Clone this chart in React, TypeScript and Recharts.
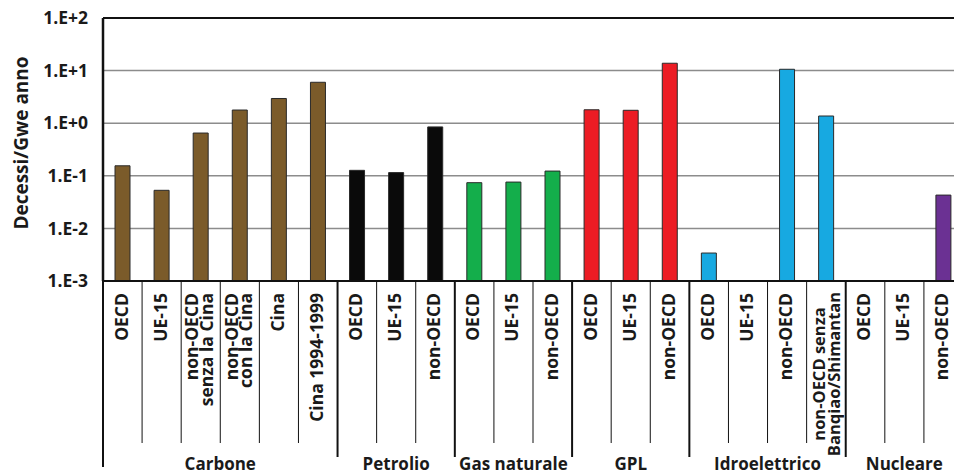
import React from 'react';
import { BarChart, Bar, XAxis, YAxis, CartesianGrid, Cell, ReferenceLine, Customized } from 'recharts';

const FONT = "'Open Sans', 'DejaVu Sans', sans-serif";

// Energy chains (groups) and their colours
const groupNames = ['Carbone', 'Petrolio', 'Gas naturale', 'GPL', 'Idroelettrico', 'Nucleare'];
const groupColors = ['#7b5b2a', '#0a0a0a', '#14ae4b', '#ec1c24', '#17a9e1', '#6b3193'];

// One category per bar; "\n" splits a label over two lines
const categoryLabels = [
  'OECD', 'UE-15', 'non-OECD\nsenza la Cina', 'non-OECD\ncon la Cina', 'Cina', 'Cina 1994-1999',
  'OECD', 'UE-15', 'non-OECD',
  'OECD', 'UE-15', 'non-OECD',
  'OECD', 'UE-15', 'non-OECD',
  'OECD', 'UE-15', 'non-OECD', 'non-OECD senza\nBanqiao/Shimantan',
  'OECD', 'UE-15', 'non-OECD',
];
const categoryGroups = [0, 0, 0, 0, 0, 0, 1, 1, 1, 2, 2, 2, 3, 3, 3, 4, 4, 4, 4, 5, 5, 5];

// Fatalities per GWe-year (null = no value)
const deathRates: (number | null)[] = [
  0.155, 0.053, 0.65, 1.78, 2.95, 6.0,
  0.127, 0.115, 0.85,
  0.074, 0.076, 0.123,
  1.8, 1.76, 13.8,
  0.0034, null, 10.6, 1.37,
  null, null, 0.043,
];

const yTicks = [0.001, 0.01, 0.1, 1, 10, 100];

const data = categoryLabels.map((label, i) => ({
  key: `c${i}`,
  label,
  group: categoryGroups[i],
  value: deathRates[i],
}));

const CHART_W = 963;
const CHART_H = 474;
const Y_AXIS_W = 103;

const formatExp = (v: number) => {
  const e = Math.round(Math.log10(v));
  return `1.E${e >= 0 ? '+' : '-'}${Math.abs(e)}`;
};

function CategoryTick(props: any) {
  const { x, y, payload } = props;
  const i: number = payload?.index ?? props.index;
  const half: number = payload?.offset ?? (CHART_W - Y_AXIS_W) / categoryLabels.length / 2;
  const left = x - half;
  const g = categoryGroups[i];
  const isFirst = i === 0 || categoryGroups[i - 1] !== g;
  const isLast = i === categoryLabels.length - 1;
  const groupSize = categoryGroups.filter((k) => k === g).length;
  const lines = categoryLabels[i].split('\n');
  // very long labels are set smaller and centred in the label band
  const isLong = lines.some((l) => l.length > 15);
  const fontSize = isLong ? 16.5 : 17.5;
  const lineGap = isLong ? 15 : 14.5;
  const cx = x - (isLong ? 0 : 1.5);
  const cy = isLong ? y + 93 : y + 12;
  const sepBottom = i === 0 ? y + 186 : isFirst ? y + 176 : y + 162;
  return (
    <g>
      <line
        x1={left}
        x2={left}
        y1={y}
        y2={sepBottom}
        stroke="#111"
        strokeWidth={isFirst ? 2 : 1}
      />
      {isLast && (
        <line x1={x + half} x2={x + half} y1={y} y2={y + 176} stroke="#111" strokeWidth={2} />
      )}
      <text
        transform={`rotate(-90, ${cx}, ${cy})`}
        textAnchor={isLong ? 'middle' : 'end'}
        fontFamily={FONT}
        fontWeight={700}
        fontSize={fontSize}
        fill="#1a1a1a"
      >
        {lines.map((ln, k) => (
          <tspan
            key={k}
            x={cx}
            y={cy + fontSize * 0.37 - ((lines.length - 1) * lineGap) / 2 + k * lineGap}
          >
            {ln}
          </tspan>
        ))}
      </text>
      {isFirst && (
        <text
          x={left + groupSize * half}
          y={y + 188.5}
          textAnchor="middle"
          fontFamily={FONT}
          fontWeight={700}
          fontSize={17}
          fill="#1a1a1a"
        >
          {groupNames[g]}
        </text>
      )}
    </g>
  );
}

const AxisTitle = () => (
  <text
    x={21}
    y={143}
    transform="rotate(-90, 21, 143)"
    textAnchor="middle"
    dominantBaseline="central"
    fontFamily={FONT}
    fontWeight={700}
    fontSize={19}
    fill="#1a1a1a"
  >
    Decessi/Gwe anno
  </text>
);

export default function App() {
  return (
    <div
      style={{
        position: 'absolute',
        left: 0,
        top: 0,
        width: 954,
        height: 474,
        overflow: 'hidden',
        background: '#fff',
      }}
    >
      <BarChart
        width={CHART_W}
        height={CHART_H}
        data={data}
        margin={{ top: 18, right: 0, bottom: 0, left: 0 }}
      >
        <CartesianGrid vertical={false} stroke="#8c8c8c" strokeWidth={1.5} />
        <XAxis
          dataKey="key"
          type="category"
          interval={0}
          height={193}
          tickLine={false}
          tickSize={0}
          tickMargin={0}
          axisLine={{ stroke: '#111', strokeWidth: 2 }}
          tick={<CategoryTick />}
        />
        <YAxis
          scale="log"
          domain={[0.001, 100]}
          ticks={yTicks}
          allowDataOverflow
          width={Y_AXIS_W}
          tickFormatter={formatExp}
          tickLine={false}
          tickSize={6}
          tickMargin={9}
          axisLine={{ stroke: '#111', strokeWidth: 2.5 }}
          tick={{ fill: '#1a1a1a', fontSize: 17.5, fontWeight: 700, fontFamily: FONT }}
        />
        <ReferenceLine y={100} stroke="#111" strokeWidth={2} />
        <Bar dataKey="value" barSize={15} stroke="#2a2a2a" strokeWidth={1} isAnimationActive={false}>
          {data.map((d) => (
            <Cell key={d.key} fill={groupColors[d.group]} />
          ))}
        </Bar>
        <Customized component={AxisTitle} />
      </BarChart>
    </div>
  );
}
